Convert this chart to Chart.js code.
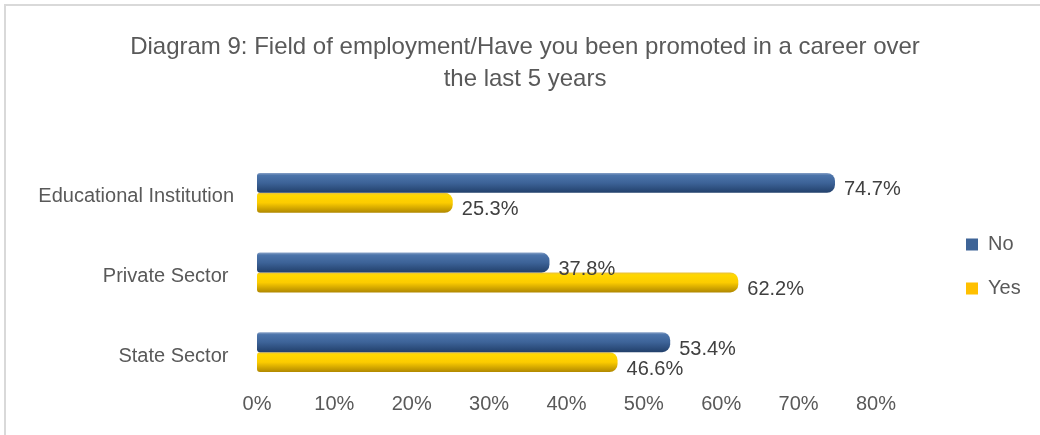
<!DOCTYPE html>
<html>
<head>
<meta charset="utf-8">
<script src="https://cdn.jsdelivr.net/npm/chart.js@4.4.0/dist/chart.umd.min.js"></script>
<style>
  html, body { margin: 0; padding: 0; background: #fff; }
  #wrap { position: relative; width: 1040px; height: 435px; overflow: hidden; }
  #frame { position: absolute; left: 4px; top: 4px; width: 1040px; height: 440px;
           border-top: 2px solid #d9d9d9; border-left: 2px solid #d9d9d9; pointer-events: none; }
</style>
</head>
<body>
<div id="wrap">
  <canvas id="mycanvas" style="width:1040px;height:435px"></canvas>
  <div id="frame"></div>
</div>
<script>
// data
const categories = ['Educational Institution', 'Private Sector ', 'State Sector '];
const seriesNames = ['No', 'Yes'];
const noValues = [74.7, 37.8, 53.4];
const yesValues = [25.3, 62.2, 46.6];
const tickMax = 80;
const tickStep = 10;

const legendColors = ['#3e6497', '#ffc000'];
const fontFamily = "'Liberation Sans Narrow', 'Arial Narrow', 'Liberation Sans', sans-serif";

// vertical gradient so bars look like cylinders
function cylinder(stops) {
  return function(ctx) {
    const chart = ctx.chart;
    const y = chart.scales.y;
    if (!y || ctx.type !== 'data') return stops[2];
    const center = y.getPixelForValue(ctx.dataIndex);
    const step = Math.abs(y.getPixelForValue(1) - y.getPixelForValue(0)) || 80;
    const t = step * 0.25;
    const top = ctx.datasetIndex === 0 ? center - t : center;
    const g = chart.ctx.createLinearGradient(0, top, 0, top + t);
    g.addColorStop(0, stops[0]);
    g.addColorStop(0.12, stops[1]);
    g.addColorStop(0.5, stops[2]);
    g.addColorStop(1, stops[3]);
    return g;
  };
}

const valueLabels = {
  id: 'valueLabels',
  afterDatasetsDraw(chart) {
    const c = chart.ctx;
    c.save();
    c.font = '20px ' + fontFamily;
    c.fillStyle = '#404040';
    c.textAlign = 'left';
    c.textBaseline = 'middle';
    chart.data.datasets.forEach((ds, di) => {
      chart.getDatasetMeta(di).data.forEach((bar, i) => {
        c.fillText(ds.data[i].toFixed(1) + '%', bar.x + 9, bar.y + 7);
      });
    });
    c.restore();
  }
};

// move the legend out to the right edge like the original
const legendShift = {
  id: 'legendShift',
  afterLayout(chart) {
    const lg = chart.legend;
    if (!lg) return;
    const dx = 942 - lg.left;
    const dy = -6;
    lg.left += dx; lg.right += dx;
    lg.top += dy; lg.bottom += dy;
  }
};

let ctx = document.getElementById('mycanvas');

var barChart = new Chart(ctx, {
  type: 'bar',
  data: {
    labels: categories,
    datasets: [
      {
        label: seriesNames[0],
        data: noValues,
        backgroundColor: cylinder(['#8aa3c8', '#4c74aa', '#3d6398', '#22406b']),
        categoryPercentage: 0.5,
        barPercentage: 1.0,
        borderSkipped: false,
        borderRadius: { topLeft: 3, bottomLeft: 3, topRight: 8, bottomRight: 8 }
      },
      {
        label: seriesNames[1],
        data: yesValues,
        backgroundColor: cylinder(['#e8c040', '#ffd800', '#fccc00', '#b08800']),
        categoryPercentage: 0.5,
        barPercentage: 1.0,
        borderSkipped: false,
        borderRadius: { topLeft: 3, bottomLeft: 3, topRight: 8, bottomRight: 8 }
      }
    ]
  },
  options: {
    indexAxis: 'y',
    responsive: false,
    animation: false,
    devicePixelRatio: 1,
    layout: { padding: { left: 10, right: 0, top: 0, bottom: 0 } },
    scales: {
      x: {
        min: 0,
        max: tickMax,
        grid: { display: false, drawTicks: false },
        border: { display: false },
        ticks: {
          stepSize: tickStep,
          padding: 0,
          color: '#595959',
          font: { family: fontFamily, size: 20 },
          callback: v => v + '%'
        },
        afterFit: s => { s.height = 43; s.paddingRight = 164; }
      },
      y: {
        grid: { display: false, drawTicks: false },
        border: { display: false },
        ticks: {
          padding: 23,
          labelOffset: 4,
          color: '#595959',
          font: { family: fontFamily, size: 20 }
        },
        afterFit: s => { s.width = 247; }
      }
    },
    plugins: {
      title: {
        display: true,
        text: ['Diagram 9: Field of employment/Have you been promoted in a career over', 'the last 5 years'],
        color: '#595959',
        font: { family: fontFamily, size: 24, weight: 'normal', lineHeight: 1.333 },
        padding: { top: 31, bottom: 58 }
      },
      legend: {
        position: 'right',
        fullSize: false,
        labels: {
          boxWidth: 12,
          boxHeight: 12,
          padding: 24,
          color: '#595959',
          font: { family: fontFamily, size: 20 },
          generateLabels: chart => {
            const items = Chart.defaults.plugins.legend.labels.generateLabels(chart);
            items.forEach((it, i) => {
              it.fillStyle = legendColors[i];
              it.strokeStyle = legendColors[i];
              it.lineWidth = 0;
            });
            return items;
          }
        }
      },
      tooltip: { enabled: false }
    }
  },
  plugins: [valueLabels, legendShift]
});
</script>
</body>
</html>
